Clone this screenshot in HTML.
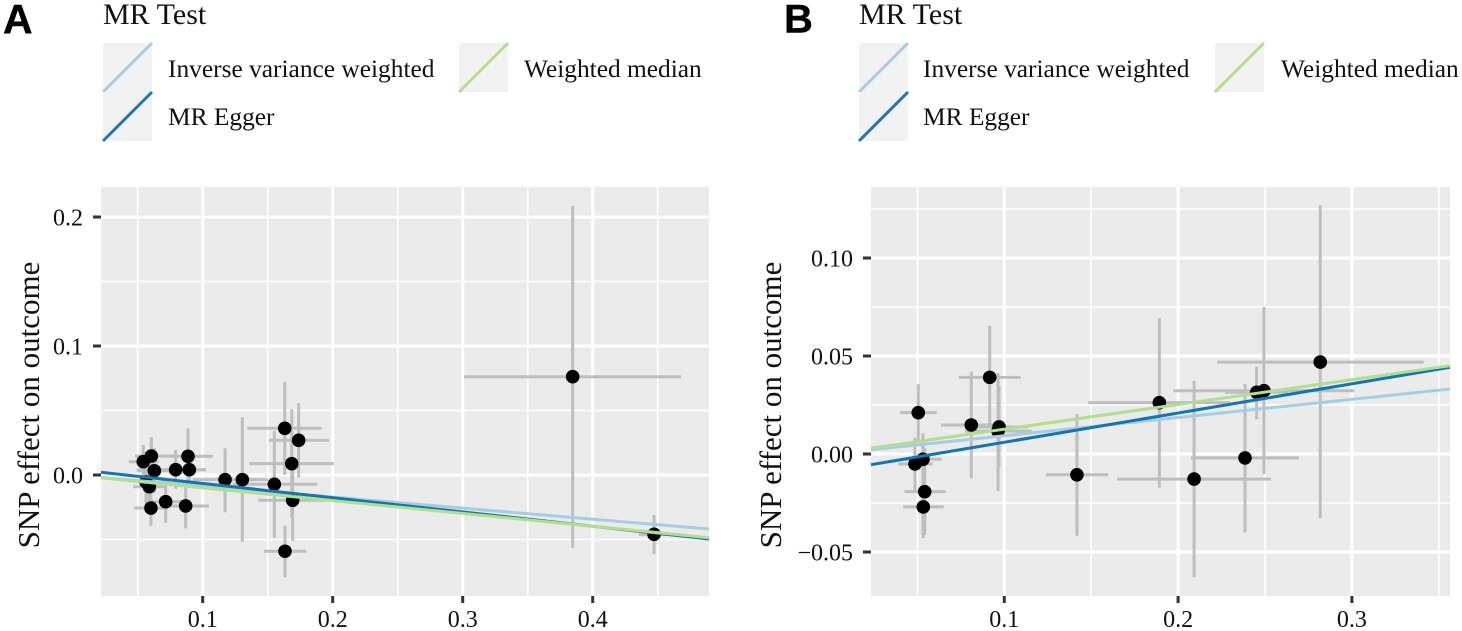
<!DOCTYPE html>
<html lang="en">
<head>
<meta charset="utf-8">
<title>MR scatter plots</title>
<style>
html,body{margin:0;padding:0;background:#fff;}
svg{display:block;}
text{font-family:"Liberation Serif",serif;fill:#111;}
</style>
</head>
<body>
<svg id="chart" xmlns="http://www.w3.org/2000/svg" width="1462" height="631" viewBox="0 0 1462 631">
  <g><text x="3" y="33" style="font-family:'Liberation Sans',sans-serif;font-weight:bold;font-size:41px;fill:#000;stroke:#000;stroke-width:0.4">A</text></g>
  <g><text x="784" y="32.5" style="font-family:'Liberation Sans',sans-serif;font-weight:bold;font-size:40px;fill:#000;stroke:#000;stroke-width:0.4">B</text></g>

  <g>
    <text x="103" y="24" font-size="30">MR Test</text>
    <g>
      <rect x="103" y="43" width="49" height="49" fill="#f2f2f2"/>
      <line x1="103" y1="92" x2="152" y2="43" stroke="#a6cee3" stroke-width="3"/>
      <text x="168" y="77" font-size="25.4">Inverse variance weighted</text>
    </g>
    <g>
      <rect x="103" y="92" width="49" height="49" fill="#f2f2f2"/>
      <line x1="103" y1="141" x2="152" y2="92" stroke="#1f78b4" stroke-width="3"/>
      <text x="168" y="125" font-size="25.4">MR Egger</text>
    </g>
    <g>
      <rect x="459" y="43" width="49" height="49" fill="#f2f2f2"/>
      <line x1="459" y1="92" x2="508" y2="43" stroke="#b2df8a" stroke-width="3"/>
      <text x="524" y="77" font-size="25.4">Weighted median</text>
    </g>
  </g>

  <g>
    <text x="859" y="24" font-size="30">MR Test</text>
    <g>
      <rect x="859" y="43" width="49" height="49" fill="#f2f2f2"/>
      <line x1="859" y1="92" x2="908" y2="43" stroke="#a6cee3" stroke-width="3"/>
      <text x="923" y="77" font-size="25.4">Inverse variance weighted</text>
    </g>
    <g>
      <rect x="859" y="92" width="49" height="49" fill="#f2f2f2"/>
      <line x1="859" y1="141" x2="908" y2="92" stroke="#1f78b4" stroke-width="3"/>
      <text x="923" y="125" font-size="25.4">MR Egger</text>
    </g>
    <g>
      <rect x="1215" y="43" width="49" height="49" fill="#f2f2f2"/>
      <line x1="1215" y1="92" x2="1264" y2="43" stroke="#b2df8a" stroke-width="3"/>
      <text x="1281" y="77" font-size="25.4">Weighted median</text>
    </g>
  </g>
</svg>

<script>
// Panel A values
const aSnpX  = [.0543,.0605,.0628,.0564,.0589,.0715,.0602,.0792,.0887,.0897,.0869,.1172,.1305,.1551,.1631,.1738,.1685,.1692,.1633,.3846,.4472];
const aSnpY  = [.0103,.0147,.0033,-.0054,-.0091,-.0207,-.0256,.0041,.0145,.0041,-.024,-.0036,-.0036,-.0072,.0362,.0269,.0088,-.0196,-.0591,.0762,-.046];
const aXLow  = [.0433,.0479,.0497,.0518,.0466,.0595,.0472,.0492,.0685,.0723,.0685,.0925,.1108,.1235,.1343,.1508,.1358,.1428,.1472,.301,.4356];
const aXHigh = [.0658,.08,.0762,.0748,.0718,.0848,.0733,.1025,.1077,.1025,.1048,.1415,.1502,.1882,.1915,.1972,.2008,.1954,.1797,.4679,.4595];
const aYLow  = [-.0023,-.0013,-.014,-.0233,-.0248,-.037,-.0393,-.0109,-.007,-.0093,-.0413,-.0289,-.0517,-.0486,0,-.0018,-.0331,-.0512,-.0793,-.0564,-.0612];
const aYHigh = [.0233,.0292,.0209,.0116,.0093,-.0062,-.0116,.0194,.0362,.0178,-.0039,.0207,.0447,.0341,.0723,.0556,.0509,.0093,-.0393,.2085,-.031];
const aXTicks = [0.1,0.2,0.3,0.4];
const aXMinor = [0.05,0.15,0.25,0.35,0.45];
const aYTicks = [0,0.1,0.2];
const aYMinor = [-0.05,0.05,0.15];
const aXTickLabels = ['0.1','0.2','0.3','0.4'];
const aYTickLabels = ['0.0','0.1','0.2'];
const aIntercepts = [0,0.0045,0];
const aSlopes = [-0.0856,-0.1105,-0.0993];

// Panel B values
const bSnpX  = [.0505,.0486,.0532,.0542,.0534,.081,.0916,.097,.0964,.1418,.1892,.2092,.2385,.2452,.2494,.2818];
const bSnpY  = [.0211,-.0051,-.0027,-.0192,-.027,.0148,.0391,.0138,.0117,-.0106,.0262,-.0128,-.002,.0315,.0323,.0469];
const bXLow  = [.04,.039,.0429,.0425,.0419,.0636,.0738,.0803,.0774,.124,.1483,.165,.2074,.2269,.1972,.2226];
const bXHigh = [.0611,.0588,.064,.0663,.0651,.0985,.1094,.1136,.1158,.1598,.2299,.2535,.2694,.2632,.3014,.3413];
const bYLow  = [.0063,-.0192,-.0413,-.0413,-.0429,-.0124,.0148,-.0065,-.0189,-.0417,-.0173,-.0629,-.04,.0177,-.0102,-.0328];
const bYHigh = [.0356,.0083,.0106,.0031,.001,.042,.0653,.0347,.0412,.0204,.0694,.0374,.0357,.0445,.075,.127];
const bXTicks = [0.1,0.2,0.3];
const bXMinor = [0.05,0.15,0.25,0.35];
const bYTicks = [-0.05,0,0.05,0.1];
const bYMinor = [-0.025,0.025,0.075,0.125];
const bXTickLabels = ['0.1','0.2','0.3'];
const bYTickLabels = ['\u22120.05','0.00','0.05','0.10'];
const bIntercepts = [0,-0.00894,0];
const bSlopes = [0.0930,0.1492,0.1264];

const methodNames = ['ivw','egger','median'];
const methodColors = ['#a6cee3','#1177b4','#b2df8a'];

const NS = 'http://www.w3.org/2000/svg';
const root = document.getElementById('chart');

function make(parent, tag, attrs, text) {
  const el = document.createElementNS(NS, tag);
  for (const k in attrs) el.setAttribute(k, attrs[k]);
  if (text !== undefined) el.textContent = text;
  parent.appendChild(el);
  return el;
}

function drawPanel(p) {
  const xs = v => p.x0 + v * p.xk;
  const ys = v => p.y0 - v * p.yk;
  const g = make(root, 'g', {});
  
  

  const bg = make(g, 'rect', {x: p.left, y: p.top, width: p.right - p.left, height: p.bottom - p.top, fill: '#ebebeb'});
  
  

  const grid = make(g, 'g', {stroke: '#fff'});
  
  
  p.xMinor.forEach(v => make(grid, 'line', {x1: xs(v), x2: xs(v), y1: p.top, y2: p.bottom, 'stroke-width': 1.6}));
  p.yMinor.forEach(v => make(grid, 'line', {x1: p.left, x2: p.right, y1: ys(v), y2: ys(v), 'stroke-width': 1.6}));
  p.xTicks.forEach(v => make(grid, 'line', {x1: xs(v), x2: xs(v), y1: p.top, y2: p.bottom, 'stroke-width': 3}));
  p.yTicks.forEach(v => make(grid, 'line', {x1: p.left, x2: p.right, y1: ys(v), y2: ys(v), 'stroke-width': 3}));

  const xAxis = make(g, 'g', {});
  
  
  p.xTicks.forEach((v, i) => {
    make(xAxis, 'line', {x1: xs(v), x2: xs(v), y1: p.bottom, y2: p.bottom + 7, stroke: '#333', 'stroke-width': 3});
    const t = make(xAxis, 'text', {x: xs(v), y: p.bottom + 31, 'text-anchor': 'middle', 'font-size': 24}, p.xLabels[i]);
    
    
  });

  const yAxis = make(g, 'g', {});
  
  
  p.yTicks.forEach((v, i) => {
    make(yAxis, 'line', {x1: p.left - 8, x2: p.left, y1: ys(v), y2: ys(v), stroke: '#333', 'stroke-width': 3});
    const t = make(yAxis, 'text', {x: p.left - 18, y: ys(v) + 8.5, 'text-anchor': 'end', 'font-size': 24}, p.yLabels[i]);
    
    
  });
  const title = make(yAxis, 'text', {
    transform: 'translate(' + p.titleX + ',405) rotate(-90)',
    'text-anchor': 'middle', 'font-size': 31
  }, 'SNP effect on outcome');
  
  

  const errs = make(g, 'g', {stroke: '#bebebe', 'stroke-width': 3});
  
  
  p.snpX.forEach((v, i) => {
    make(errs, 'line', {x1: xs(p.xLow[i]), x2: xs(p.xHigh[i]), y1: ys(p.snpY[i]), y2: ys(p.snpY[i])});
    make(errs, 'line', {x1: xs(v), x2: xs(v), y1: ys(p.yLow[i]), y2: ys(p.yHigh[i])});
  });

  const pts = make(g, 'g', {fill: '#000'});
  
  
  p.snpX.forEach((v, i) => {
    const c = make(pts, 'circle', {cx: xs(v), cy: ys(p.snpY[i]), r: 6.8});
    
    
  });

  const vMin = (p.left - p.x0) / p.xk;
  const vMax = (p.right - p.x0) / p.xk;
  p.slopes.forEach((s, i) => {
    const l = make(g, 'line', {
      x1: xs(vMin), y1: ys(p.intercepts[i] + s * vMin),
      x2: xs(vMax), y2: ys(p.intercepts[i] + s * vMax),
      stroke: methodColors[i], 'stroke-width': 3
    });
    
    
  });
}

drawPanel({
  name: 'panel-a', left: 101, right: 709, top: 187, bottom: 596,
  x0: 72.7, xk: 1300, y0: 475, yk: 1290, titleX: 39,
  snpX: aSnpX, snpY: aSnpY, xLow: aXLow, xHigh: aXHigh, yLow: aYLow, yHigh: aYHigh,
  xTicks: aXTicks, xMinor: aXMinor, yTicks: aYTicks, yMinor: aYMinor,
  xLabels: aXTickLabels, yLabels: aYTickLabels,
  intercepts: aIntercepts, slopes: aSlopes
});
drawPanel({
  name: 'panel-b', left: 871, right: 1450, top: 187, bottom: 596,
  x0: 830.5, xk: 1738, y0: 454, yk: 1960, titleX: 781,
  snpX: bSnpX, snpY: bSnpY, xLow: bXLow, xHigh: bXHigh, yLow: bYLow, yHigh: bYHigh,
  xTicks: bXTicks, xMinor: bXMinor, yTicks: bYTicks, yMinor: bYMinor,
  xLabels: bXTickLabels, yLabels: bYTickLabels,
  intercepts: bIntercepts, slopes: bSlopes
});
</script>
</body>
</html>
